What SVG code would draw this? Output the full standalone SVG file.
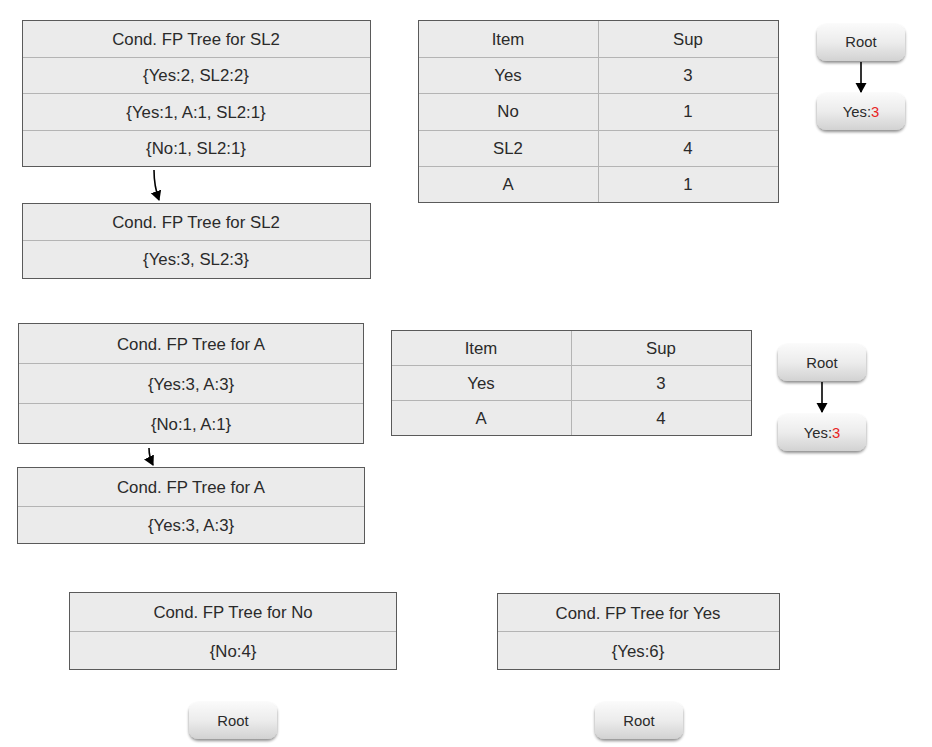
<svg xmlns="http://www.w3.org/2000/svg" width="932" height="747" viewBox="0 0 932 747">
<style>
.box{fill:#ebebeb;stroke:#5a5a5a;stroke-width:1}
.div{stroke:#b4b4b4;stroke-width:1}
.t{font-family:"Liberation Sans",Arial,sans-serif;font-size:16.8px;fill:#2a2a2a;text-anchor:middle;dominant-baseline:central}
.n{font-family:"Liberation Sans",Arial,sans-serif;font-size:14.8px;fill:#2a2a2a;text-anchor:middle;dominant-baseline:central}
.red{fill:#e8231f}
.pill{fill:url(#g);filter:url(#sh)}
.con{fill:none;stroke:#000;stroke-width:1.6;marker-end:url(#ah)}
</style>
<defs>
<linearGradient id="g" x1="0" y1="0" x2="0" y2="1">
<stop offset="0" stop-color="#fafafa"/>
<stop offset="0.5" stop-color="#ececec"/>
<stop offset="1" stop-color="#d2d2d2"/>
</linearGradient>
<filter id="sh" x="-20%" y="-20%" width="140%" height="160%">
<feGaussianBlur in="SourceAlpha" stdDeviation="1.5"/>
<feOffset dy="2" result="b"/>
<feComponentTransfer><feFuncA type="linear" slope="0.45"/></feComponentTransfer>
<feMerge><feMergeNode/><feMergeNode in="SourceGraphic"/></feMerge>
</filter>
<marker id="ah" markerWidth="12" markerHeight="12" refX="9" refY="5.5" orient="auto" markerUnits="userSpaceOnUse">
<path d="M0,0 L10,5.5 L0,11 z" fill="#000"/>
</marker>
</defs>

<g id="sl2-tree-1">
<rect class="box" x="22.5" y="20.5" width="348" height="146"/>
<line class="div" x1="23" y1="57.5" x2="370" y2="57.5"/>
<line class="div" x1="23" y1="93.5" x2="370" y2="93.5"/>
<line class="div" x1="23" y1="130.5" x2="370" y2="130.5"/>
<text class="t" x="196" y="39">Cond. FP Tree for SL2</text>
<text class="t" x="196" y="75">{Yes:2, SL2:2}</text>
<text class="t" x="196" y="112">{Yes:1, A:1, SL2:1}</text>
<text class="t" x="196" y="148">{No:1, SL2:1}</text>
</g>

<g id="sl2-tree-2">
<rect class="box" x="22.5" y="203.5" width="348" height="75"/>
<line class="div" x1="23" y1="240.5" x2="370" y2="240.5"/>
<text class="t" x="196" y="222">Cond. FP Tree for SL2</text>
<text class="t" x="196" y="259">{Yes:3, SL2:3}</text>
</g>

<g id="table-1">
<rect class="box" x="418.5" y="20.5" width="360" height="182"/>
<line class="div" x1="598.5" y1="21" x2="598.5" y2="202"/>
<line class="div" x1="419" y1="57.5" x2="778" y2="57.5"/>
<line class="div" x1="419" y1="93.5" x2="778" y2="93.5"/>
<line class="div" x1="419" y1="130.5" x2="778" y2="130.5"/>
<line class="div" x1="419" y1="166.5" x2="778" y2="166.5"/>
<text class="t" x="508" y="39">Item</text><text class="t" x="688" y="39">Sup</text>
<text class="t" x="508" y="75">Yes</text><text class="t" x="688" y="75">3</text>
<text class="t" x="508" y="111">No</text><text class="t" x="688" y="111">1</text>
<text class="t" x="508" y="148">SL2</text><text class="t" x="688" y="148">4</text>
<text class="t" x="508" y="184">A</text><text class="t" x="688" y="184">1</text>
</g>

<g id="root-1">
<rect class="pill" x="817" y="24" width="88" height="37" rx="9"/>
<text class="n" x="861" y="42">Root</text>
</g>
<g id="yes-1">
<rect class="pill" x="817" y="93" width="88" height="37" rx="9"/>
<text class="n" x="861" y="112">Yes:<tspan class="red">3</tspan></text>
</g>

<g id="a-tree-1">
<rect class="box" x="18.5" y="323.5" width="345" height="120"/>
<line class="div" x1="19" y1="363.5" x2="363" y2="363.5"/>
<line class="div" x1="19" y1="403.5" x2="363" y2="403.5"/>
<text class="t" x="191" y="344">Cond. FP Tree for A</text>
<text class="t" x="191" y="384">{Yes:3, A:3}</text>
<text class="t" x="191" y="424">{No:1, A:1}</text>
</g>

<g id="a-tree-2">
<rect class="box" x="17.5" y="467.5" width="347" height="76"/>
<line class="div" x1="18" y1="506.5" x2="364" y2="506.5"/>
<text class="t" x="191" y="487">Cond. FP Tree for A</text>
<text class="t" x="191" y="525">{Yes:3, A:3}</text>
</g>

<g id="table-2">
<rect class="box" x="391.5" y="330.5" width="360" height="105"/>
<line class="div" x1="571.5" y1="331" x2="571.5" y2="435"/>
<line class="div" x1="392" y1="365.5" x2="751" y2="365.5"/>
<line class="div" x1="392" y1="400.5" x2="751" y2="400.5"/>
<text class="t" x="481" y="348">Item</text><text class="t" x="661" y="348">Sup</text>
<text class="t" x="481" y="383">Yes</text><text class="t" x="661" y="383">3</text>
<text class="t" x="481" y="418">A</text><text class="t" x="661" y="418">4</text>
</g>

<g id="root-2">
<rect class="pill" x="778" y="344" width="88" height="37" rx="9"/>
<text class="n" x="822" y="363">Root</text>
</g>
<g id="yes-2">
<rect class="pill" x="778" y="414" width="88" height="37" rx="9"/>
<text class="n" x="822" y="433">Yes:<tspan class="red">3</tspan></text>
</g>

<g id="no-tree">
<rect class="box" x="69.5" y="592.5" width="327" height="77"/>
<line class="div" x1="70" y1="631.5" x2="396" y2="631.5"/>
<text class="t" x="233" y="612">Cond. FP Tree for No</text>
<text class="t" x="233" y="651">{No:4}</text>
</g>

<g id="yes-tree">
<rect class="box" x="497.5" y="593.5" width="282" height="76"/>
<line class="div" x1="498" y1="631.5" x2="779" y2="631.5"/>
<text class="t" x="638" y="613">Cond. FP Tree for Yes</text>
<text class="t" x="638" y="651">{Yes:6}</text>
</g>

<g id="root-3">
<rect class="pill" x="189" y="702" width="88" height="37" rx="9"/>
<text class="n" x="233" y="721">Root</text>
</g>
<g id="root-4">
<rect class="pill" x="595" y="702" width="88" height="37" rx="9"/>
<text class="n" x="639" y="721">Root</text>
</g>

<g id="connectors">
<path class="con" d="M154,170 Q154,186 159,200"/>
<path class="con" d="M149,448 Q149,457 153,465"/>
<path class="con" d="M861,62 L861,92"/>
<path class="con" d="M822,382 L822,412"/>
</g>
</svg>
